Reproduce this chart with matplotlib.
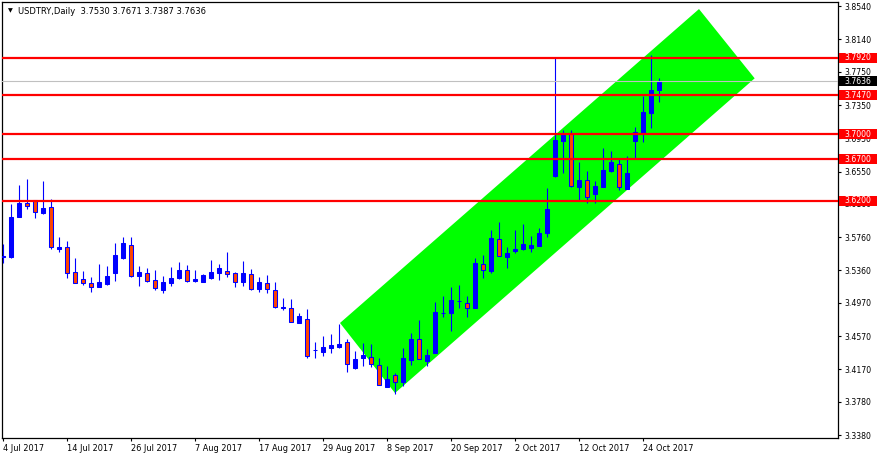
import matplotlib
matplotlib.use("Agg")
import matplotlib.pyplot as plt
from matplotlib.patches import Polygon, Rectangle
from matplotlib.transforms import blended_transform_factory

# ---- data ----
opens = [3.5522, 3.5522, 3.6003, 3.6172, 3.6208, 3.6051, 3.6124, 3.5618, 3.5642, 3.5342,
         3.5257, 3.5209, 3.5161, 3.5197, 3.5330, 3.5510, 3.5666, 3.5293, 3.5330, 3.5245,
         3.5125, 3.5209, 3.5269, 3.5366, 3.5233, 3.5221, 3.5269, 3.5330, 3.5354, 3.5330,
         3.5221, 3.5317, 3.5137, 3.5209, 3.5125, 3.4914, 3.4908, 3.4728, 3.4776, 3.4400,
         3.4379, 3.4427, 3.4439, 3.4499, 3.4186, 3.4307, 3.4319, 3.4222, 3.3958, 3.4102,
         3.4018, 3.4283, 3.4535, 3.4271, 3.4367, 3.4845, 3.4848, 3.4987, 3.4968, 3.4908,
         3.5438, 3.5354, 3.5739, 3.5522, 3.5594, 3.5618, 3.5630, 3.5654, 3.5811, 3.6497,
         3.6918, 3.7002, 3.6364, 3.6449, 3.6280, 3.6364, 3.6557, 3.6641, 3.6340, 3.6918,
         3.7014, 3.7255, 3.7530]
highs = [3.5679, 3.6160, 3.6388, 3.6461, 3.6210, 3.6437, 3.6220, 3.5763, 3.5715, 3.5510,
         3.5354, 3.5281, 3.5438, 3.5414, 3.5691, 3.5763, 3.5763, 3.5414, 3.5390, 3.5366,
         3.5293, 3.5402, 3.5462, 3.5426, 3.5366, 3.5317, 3.5486, 3.5438, 3.5582, 3.5342,
         3.5474, 3.5378, 3.5281, 3.5305, 3.5221, 3.5029, 3.5017, 3.4848, 3.4896, 3.4499,
         3.4571, 3.4595, 3.4716, 3.4535, 3.4391, 3.4487, 3.4475, 3.4307, 3.4210, 3.4126,
         3.4427, 3.4607, 3.4764, 3.4415, 3.4980, 3.5053, 3.5161, 3.5185, 3.5053, 3.5510,
         3.5546, 3.5847, 3.5943, 3.5642, 3.5847, 3.5919, 3.5775, 3.5871, 3.6352, 3.7917,
         3.7050, 3.7050, 3.6665, 3.6557, 3.6437, 3.6834, 3.6798, 3.6713, 3.6737, 3.7086,
         3.7459, 3.7953, 3.7671]
lows = [3.5450, 3.5510, 3.6000, 3.6100, 3.5991, 3.6039, 3.5618, 3.5582, 3.5269, 3.5205,
        3.5185, 3.5101, 3.5155, 3.5185, 3.5233, 3.5498, 3.5281, 3.5173, 3.5221, 3.5125,
        3.5089, 3.5173, 3.5257, 3.5221, 3.5221, 3.5218, 3.5257, 3.5245, 3.5281, 3.5161,
        3.5173, 3.5130, 3.5101, 3.5089, 3.4908, 3.4884, 3.4736, 3.4724, 3.4307, 3.4307,
        3.4331, 3.4367, 3.4427, 3.4138, 3.4180, 3.4210, 3.4198, 3.3978, 3.3955, 3.3873,
        3.3970, 3.4222, 3.4292, 3.4210, 3.4364, 3.4800, 3.4632, 3.4908, 3.4800, 3.4905,
        3.5269, 3.5330, 3.5530, 3.5390, 3.5570, 3.5606, 3.5582, 3.5650, 3.5763, 3.6485,
        3.6533, 3.6364, 3.6196, 3.6172, 3.6172, 3.6364, 3.6545, 3.6328, 3.6336, 3.6701,
        3.6906, 3.7074, 3.7387]
closes = [3.5534, 3.6003, 3.6172, 3.6136, 3.6063, 3.6112, 3.5642, 3.5642, 3.5330, 3.5209,
          3.5209, 3.5161, 3.5221, 3.5293, 3.5546, 3.5691, 3.5293, 3.5342, 3.5233, 3.5149,
          3.5221, 3.5269, 3.5366, 3.5233, 3.5257, 3.5305, 3.5342, 3.5390, 3.5317, 3.5221,
          3.5330, 3.5137, 3.5221, 3.5137, 3.4920, 3.4920, 3.4740, 3.4812, 3.4331, 3.4406,
          3.4439, 3.4463, 3.4475, 3.4234, 3.4295, 3.4343, 3.4234, 3.3982, 3.4054, 3.4018,
          3.4307, 3.4535, 3.4295, 3.4343, 3.4860, 3.4852, 3.5005, 3.4995, 3.4908, 3.5450,
          3.5366, 3.5751, 3.5534, 3.5570, 3.5618, 3.5679, 3.5666, 3.5811, 3.6100, 3.6930,
          3.7014, 3.6376, 3.6449, 3.6244, 3.6376, 3.6569, 3.6665, 3.6364, 3.6533, 3.7026,
          3.7267, 3.7532, 3.7636]

date_tick_pos = [0, 8, 16, 24, 32, 40, 48, 56, 64, 72, 80]
date_tick_labels = ["4 Jul 2017", "14 Jul 2017", "26 Jul 2017", "7 Aug 2017",
                    "17 Aug 2017", "29 Aug 2017", "8 Sep 2017", "20 Sep 2017",
                    "2 Oct 2017", "12 Oct 2017", "24 Oct 2017"]
price_ticks = [3.8540, 3.8140, 3.7750, 3.7350, 3.6950, 3.6550, 3.6160,
               3.5760, 3.5360, 3.4970, 3.4570, 3.4170, 3.3780, 3.3380]
levels = [3.7920, 3.7470, 3.7000, 3.6700, 3.6200]
bid = 3.7636
channel_x = [42.125, 49.0, 93.96, 87.0]
channel_y = [3.4728, 3.3885, 3.7672, 3.8506]
title = "USDTRY,Daily  3.7530 3.7671 3.7387 3.7636"

# ---- styling ----
BLUE = "#0000FF"
BEAR = "#FF4500"
RED = "#FF0000"
GREEN = "#00FF00"
FS = 5.6

W, H = 878, 459
fig = plt.figure(figsize=(W / 100, H / 100), dpi=100)
fig.patch.set_facecolor("white")
ax = fig.add_axes([2 / W, 21 / H, 836 / W, 436 / H])
ax.set_facecolor("white")
ax.set_xlim(-0.125, 104.375)
ax.set_ylim(3.33439, 3.85906)

# channel (background)
ax.add_patch(Polygon(list(zip(channel_x, channel_y)), closed=True,
                     facecolor=GREEN, edgecolor="none", zorder=1))

# candles
xs = list(range(len(opens)))
ax.vlines(xs, lows, highs, colors=BLUE, linewidth=0.8, zorder=3)
bottoms = [min(o, c) for o, c in zip(opens, closes)]
heights = [abs(c - o) for o, c in zip(opens, closes)]
faces = [BLUE if c >= o else BEAR for o, c in zip(opens, closes)]
ax.bar(xs, heights, bottom=bottoms, width=0.6, color=faces,
       edgecolor=BLUE, linewidth=0.75, zorder=4)

# bid line and horizontal levels
ax.axhline(bid, color="#C0C0C0", linewidth=0.8, zorder=5)
for lv in levels:
    ax.axhline(lv, color=RED, linewidth=1.6, zorder=6)

# axes frame
for s in ax.spines.values():
    s.set_color("black")
    s.set_linewidth(0.9)

ax.yaxis.tick_right()
ax.set_yticks(price_ticks)
ax.set_yticklabels([f"{v:.4f}" for v in price_ticks])
ax.tick_params(axis="y", direction="out", length=2.5, width=0.8, pad=2,
               labelsize=FS, colors="black")
ax.set_xticks(date_tick_pos)
ax.set_xticklabels(date_tick_labels, ha="left")
ax.tick_params(axis="x", direction="out", length=2.5, width=0.8, pad=1.5,
               labelsize=5.9, colors="black")
for lbl in ax.get_xticklabels():
    lbl.set_horizontalalignment("left")

# price label boxes on the right scale
trans = blended_transform_factory(ax.transAxes, ax.transData)
bx0 = (839 - 2) / 836
bw = 38 / 836
bh = 10 / 831
for lv in levels:
    ax.add_patch(Rectangle((bx0, lv - bh / 2), bw, bh, transform=trans,
                           facecolor=RED, edgecolor="none", clip_on=False, zorder=10))
    ax.text((844 - 2) / 836, lv, f"{lv:.4f}", transform=trans, ha="left",
            va="center", color="white", fontsize=FS, zorder=11, clip_on=False)
ax.add_patch(Rectangle((bx0, bid - bh / 2), bw, bh, transform=trans,
                       facecolor="black", edgecolor="none", clip_on=False, zorder=10))
ax.text((844 - 2) / 836, bid, f"{bid:.4f}", transform=trans, ha="left",
        va="center", color="white", fontsize=FS, zorder=11, clip_on=False)

# title
fig.text(10 / W, 1 - 11 / H, "\u25BC", ha="center", va="center", fontsize=4.5,
         color="black")
fig.text(18 / W, 1 - 11 / H, title, ha="left", va="center", fontsize=6.0,
         color="black")

fig.savefig("out.png", dpi=100, facecolor="white")
